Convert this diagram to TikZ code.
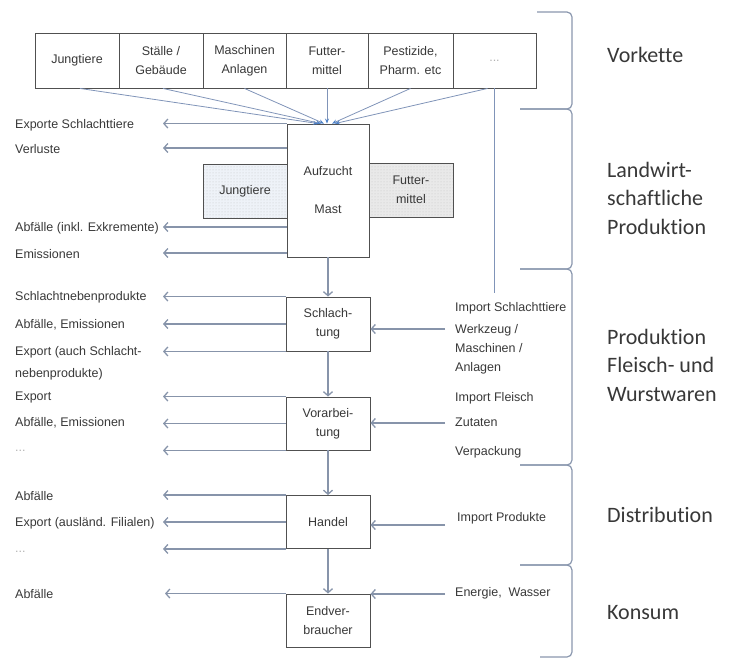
\documentclass[tikz,border=0pt]{standalone}
\usepackage{fontspec}
\setmainfont{Liberation Sans}
\newfontfamily\calfont[Ligatures=NoCommon]{Carlito}
\usetikzlibrary{arrows.meta,patterns}
\definecolor{arrc}{HTML}{8794AA}
\definecolor{topc}{HTML}{8094B8}
\definecolor{tipc}{HTML}{4F82C8}
\definecolor{boxc}{HTML}{505050}
\definecolor{txt}{HTML}{383838}
\definecolor{brkc}{HTML}{8A97AE}
\definecolor{jfill}{HTML}{EEF2F8}
\definecolor{ffill}{HTML}{E9E9E9}
\tikzset{
  basebox/.style={draw=boxc, line width=0.9pt, inner sep=0pt, align=center,
    font=\fontsize{12.5}{19}\selectfont, text=txt},
  box/.style={basebox, fill=white},
  dotbox/.style={basebox, preaction={fill=#1}, pattern=dots, pattern color=gray!45},
  lab/.style={anchor=west, inner sep=0pt, align=left, font=\fontsize{12.5}{22}\selectfont, text=txt},
  rlab/.style={anchor=west, inner sep=0pt, align=left, font=\fontsize{12.5}{19}\selectfont, text=txt},
  big/.style={anchor=west, inner sep=0pt, align=left, font=\calfont\fontsize{22}{28.5}\selectfont, text=txt},
  arr/.style={draw=arrc, line width=1.3pt, -{Straight Barb[length=4pt,width=9pt]}},
  feed/.style={draw=topc, line width=0.8pt, -{Stealth[length=5pt,width=4pt,color=tipc]}},
  feedline/.style={draw=topc, line width=0.8pt},
  brk/.style={draw=brkc, line width=1.2pt, rounded corners=5pt}
}
\begin{document}
\begin{tikzpicture}[x=1pt,y=-1pt]
\useasboundingbox (0,0) rectangle (729,659);

% top row
\node[box, minimum width=84, minimum height=55] (t1) at (77,60.5) {Jungtiere};
\node[box, minimum width=84, minimum height=55] (t2) at (161,60.5) {Ställe /\\Gebäude};
\node[box, minimum width=83, minimum height=55] (t3) at (244.5,60.5) {Maschinen\\Anlagen};
\node[box, minimum width=82, minimum height=55] (t4) at (327,60.5) {Futter-\\mittel};
\node[box, minimum width=85, minimum height=55] (t5) at (410.5,60.5) {Pestizide,\\Pharm. etc};
\node[box, minimum width=83, minimum height=55] (t6) at (494.5,60.5) {\textcolor{gray!60}{...}};

% main chain
\node[box, minimum width=82, minimum height=133] (auf) at (328,190.5) {Aufzucht\\[19pt]Mast};
\node[dotbox=jfill, minimum width=84, minimum height=54] (jt) at (245,191) {Jungtiere};
\node[dotbox=ffill, minimum width=84, minimum height=54] (fm) at (411,190) {Futter-\\mittel};
\node[box, minimum width=84, minimum height=54] (sch) at (328,324) {Schlach-\\tung};
\node[box, minimum width=84, minimum height=53] (vor) at (328,423.5) {Vorarbei-\\tung};
\node[box, minimum width=84, minimum height=53] (han) at (328,522) {Handel};
\node[box, minimum width=84, minimum height=53] (end) at (328,620.5) {Endver-\\braucher};

% feeds into Aufzucht
\draw[feed] ([xshift=3pt]t1.south) -- ([xshift=-10pt]auf.north);
\draw[feed] ([xshift=2pt]t2.south) -- ([xshift=-7pt]auf.north);
\draw[feed] (t3.south) -- ([xshift=-4pt]auf.north);
\draw[feed] (t4.south) -- (t4.south |- auf.north);
\draw[feed] (t5.south) -- ([xshift=4pt]auf.north);
\draw[feed] ([xshift=-7pt]t6.south) -- ([xshift=7pt]auf.north);
\coordinate (dend) at (494,293);
\draw[feedline] (t6.south) -- (t6.south |- dend);

% down arrows
\draw[arr] (auf.south) -- (sch.north);
\draw[arr] (sch.south) -- (vor.north);
\draw[arr] (vor.south) -- (han.north);
\draw[arr] (han.south) -- (end.north);

% left outputs
\coordinate (L) at (163,0);
\coordinate (la2) at (163,148);
\coordinate (la3) at (163,227);
\coordinate (la4) at (163,253);
\draw[arr] (auf.north west) -- (auf.north west -| L);
\draw[arr] (auf.west |- la2) -- (la2);
\draw[arr] (auf.west |- la3) -- (la3);
\draw[arr] (auf.west |- la4) -- (la4);
\draw[arr] (sch.north west) -- (sch.north west -| L);
\draw[arr] (sch.west) -- (sch.west -| L);
\draw[arr] (sch.south west) -- (sch.south west -| L);
\draw[arr] (vor.north west) -- (vor.north west -| L);
\draw[arr] (vor.west) -- (vor.west -| L);
\draw[arr] (vor.south west) -- (vor.south west -| L);
\draw[arr] (han.north west) -- (han.north west -| L);
\draw[arr] (han.west) -- (han.west -| L);
\draw[arr] (han.south west) -- (han.south west -| L);
\coordinate (L2) at (165,0);
\draw[arr] (end.north west) -- (end.north west -| L2);

% right inputs
\coordinate (r1) at (445,329);
\coordinate (r2) at (445,423);
\coordinate (r3) at (445,525);
\coordinate (r4) at (445,594);
\draw[arr] (r1) -- (r1 -| sch.east);
\draw[arr] (r2) -- (r2 -| vor.east);
\draw[arr] (r3) -- (r3 -| han.east);
\draw[arr] (r4) -- (r4 -| end.east);

% left labels
\node[lab] (o1) at (15,125) {Exporte Schlachttiere};
\node[lab] (o2) at (15,149) {Verluste};
\node[lab] (o3) at (15,228) {Abfälle (inkl. Exkremente)};
\node[lab] (o4) at (15,254) {Emissionen};
\node[lab] (o5) at (15,297) {Schlachtnebenprodukte};
\node[lab] (o6) at (15,325) {Abfälle, Emissionen};
\node[lab] (o7) at (15,363) {Export (auch Schlacht-\\nebenprodukte)};
\node[lab] (o8) at (15,397) {Export};
\node[lab] (o9) at (15,423) {Abfälle, Emissionen};
\node[lab, text=gray!60] (o10) at (15,451) {...};
\node[lab] (o11) at (15,496) {Abfälle};
\node[lab] (o12) at (15,523) {Export (ausländ. Filialen)};
\node[lab, text=gray!60] (o13) at (15,552) {...};
\node[lab] (o14) at (15,594) {Abfälle};

% right labels
\node[rlab] (i1) at (455,308) {Import Schlachttiere};
\node[rlab] (i2) at (455,349) {Werkzeug /\\Maschinen /\\Anlagen};
\node[rlab] (i3) at (455,398) {Import Fleisch};
\node[rlab] (i4) at (455,422) {Zutaten};
\node[rlab] (i5) at (455,452) {Verpackung};
\node[rlab] (i6) at (457,518) {Import Produkte};
\node[rlab] (i7) at (455,593) {Energie,\ \ Wasser};

% brackets
\draw[brk] (537,12) -- (572,12) -- (572,109) -- (520,109);
\draw[brk] (520,109) -- (572,109) -- (572,269) -- (520,269);
\draw[brk] (520,269) -- (572,269) -- (572,465) -- (520,465);
\draw[brk] (520,465) -- (572,465) -- (572,565) -- (520,565);
\draw[brk] (520,565) -- (572,565) -- (572,657) -- (540,657);

% stage labels
\node[big] (s1) at (607,55) {Vorkette};
\node[big] (s2) at (607,198) {Landwirt-\\schaftliche\\Produktion};
\node[big] (s3) at (607,365) {Produktion\\Fleisch- und\\Wurstwaren};
\node[big] (s4) at (607,515) {Distribution};
\node[big] (s5) at (607,613) {Konsum};
\end{tikzpicture}
\end{document}
